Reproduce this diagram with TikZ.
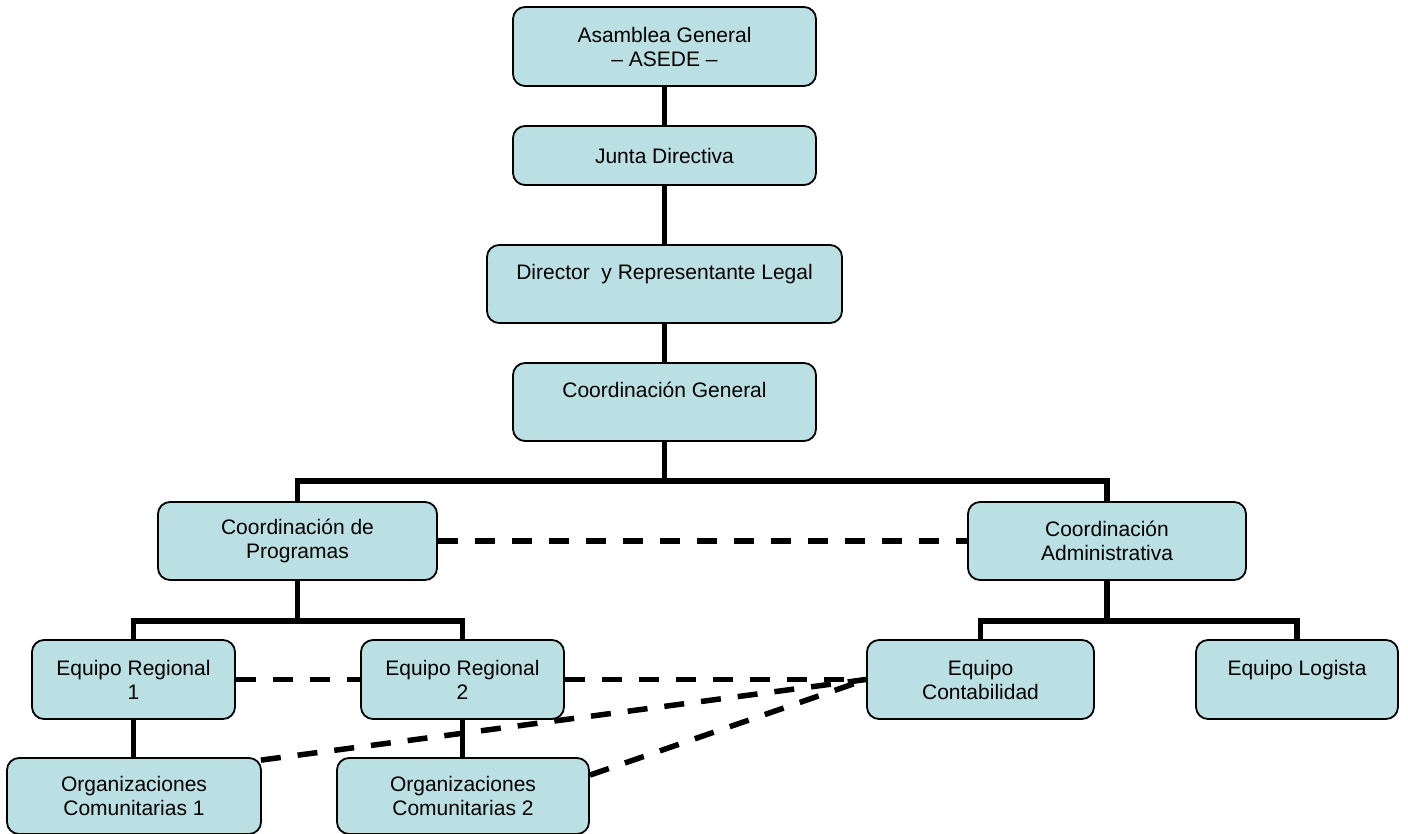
\documentclass[tikz,border=0pt]{standalone}
\usepackage{fontspec}
\setmainfont{Liberation Sans}
\usetikzlibrary{calc}
\definecolor{boxfill}{RGB}{187,224,227}
\tikzset{
  orgbox/.style={draw=black, line width=1.8pt, fill=boxfill, rounded corners=12pt,
    align=center, inner sep=0pt, font=\fontsize{21}{24}\selectfont},
  solidlink/.style={line width=5.5pt, line join=miter},
  dashlink/.style={line width=5.5pt, dash pattern=on 20pt off 17pt},
}
\begin{document}
\begin{tikzpicture}[x=1pt,y=-1pt]
\fill[white] (0,0) rectangle (1408,834);
\useasboundingbox (0,0) rectangle (1408,834);

% boxes
\node[orgbox, minimum width=303pt, minimum height=79pt] (asam) at (664.5,46.5) {Asamblea General\\– ASEDE –};
\node[orgbox, minimum width=303pt, minimum height=59pt] (junta) at (664.5,155.5) {Junta Directiva};
\node[orgbox, minimum width=355pt, minimum height=78pt] (dir) at (664.5,284) {Director\ \ y Representante Legal\\ \mbox{}};
\node[orgbox, minimum width=303pt, minimum height=78pt] (cgen) at (664.5,402) {Coordinación General\\ \mbox{}};
\node[orgbox, minimum width=279pt, minimum height=78pt] (cprog) at (297.5,541) {Coordinación de\\Programas};
\node[orgbox, minimum width=278pt, minimum height=78pt] (cadm) at (1107,541) {Coordinación\\Administrativa};
\node[orgbox, minimum width=203pt, minimum height=79pt] (er1) at (133.5,679.5) {Equipo Regional\\1};
\node[orgbox, minimum width=203pt, minimum height=79pt] (er2) at (462.5,679.5) {Equipo Regional\\2};
\node[orgbox, minimum width=227pt, minimum height=79pt] (ec) at (980.5,679.5) {Equipo\\Contabilidad};
\node[orgbox, minimum width=202pt, minimum height=79pt] (el) at (1297,679.5) {Equipo Logista\\ \mbox{}};
\node[orgbox, minimum width=254pt, minimum height=76pt] (oc1) at (134,796) {Organizaciones\\Comunitarias 1};
\node[orgbox, minimum width=252pt, minimum height=76pt] (oc2) at (463,796) {Organizaciones\\Comunitarias 2};

% bus coordinates
\coordinate (b1) at (664.5,481);
\coordinate (b2) at (297.5,621);
\coordinate (b3) at (1107,621);

% solid links
\draw[solidlink] (asam.south) -- (junta.north);
\draw[solidlink] (junta.south) -- (dir.north);
\draw[solidlink] (dir.south) -- (cgen.north);
\draw[solidlink] (cgen.south) -- (b1);
\draw[solidlink] (cprog.north) |- (b1) -| (cadm.north);
\draw[solidlink] (cprog.south) -- (b2);
\draw[solidlink] (er1.north) |- (b2) -| (er2.north);
\draw[solidlink] (cadm.south) -- (b3);
\draw[solidlink] (ec.north) |- (b3) -| (el.north);
\draw[solidlink] (er1.south) -- (er1.south |- oc1.north);
\draw[solidlink] (er2.south) -- (er2.south |- oc2.north);

% dashed links
\draw[dashlink] (cprog.east) -- (cadm.west);
\draw[dashlink] (er1.east) -- (er2.west);
\draw[dashlink] (er2.east) -- (ec.west);
\draw[dashlink] ($(oc1.north east)+(-1,3)$) -- (ec.west);
\draw[dashlink] ($(oc2.north east)+(0,18)$) -- (ec.west);
\end{tikzpicture}
\end{document}
